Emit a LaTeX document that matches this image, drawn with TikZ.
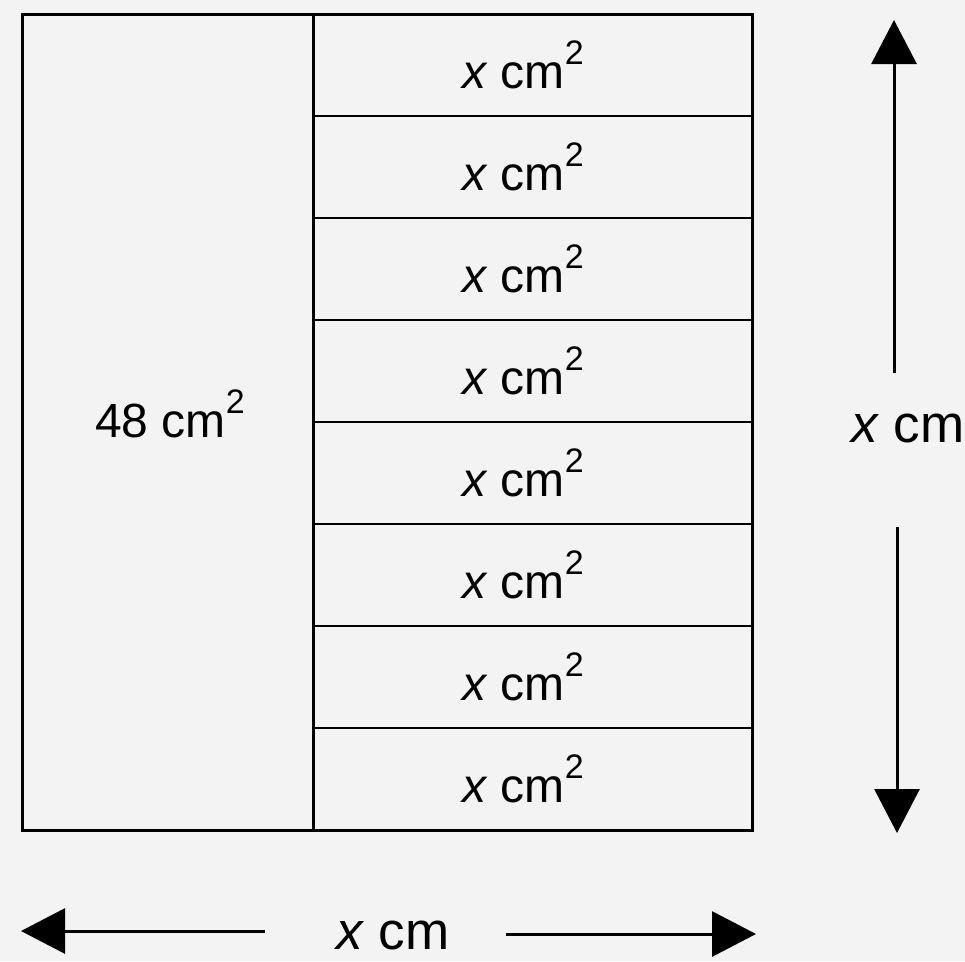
\documentclass[tikz,border=0pt]{standalone}
\usepackage{fontspec}
\setmainfont{Liberation Sans}
\usetikzlibrary{arrows.meta}
\definecolor{bg}{RGB}{243,243,243}
\newcommand\sqtwo{\raisebox{24pt}{\fontsize{34}{34}\selectfont 2}}
\tikzset{
  frame/.style={line width=3pt, draw=black},
  divline/.style={line width=2.2pt, draw=black},
  rowlabel/.style={anchor=base west, inner sep=0pt, font=\fontsize{48}{56}\selectfont},
  dimlabel/.style={anchor=base west, inner sep=0pt, font=\fontsize{53}{60}\selectfont},
  dimarrow/.style={line width=3pt, -{Triangle[length=44pt,width=45pt]}},
}
\begin{document}
\begin{tikzpicture}[x=1pt,y=-1pt]
\fill[bg] (0,0) rectangle (965,961);
\useasboundingbox (0,0) rectangle (965,961);
% outer frame and divider
\draw[frame] (22,14) rectangle (752,830);
\draw[frame] (313,14) -- (313,830);
\foreach \i in {1,...,7}{
  \draw[divline] (313,{14+102*\i}) -- (752,{14+102*\i});
}
% labels
\foreach \i in {0,...,7}{
  \node[rowlabel] (r\i) at (462,{88+102*\i}) {\textit{x}~cm\sqtwo};
}
\node[rowlabel] (big) at (95,437) {48~cm\sqtwo};
\node[dimlabel] (vlab) at (851,442) {\textit{x}~cm};
\node[dimlabel] (hlab) at (336,949) {\textit{x}~cm};
% dimension arrows
\coordinate (vt0) at (894,373);
\coordinate (vt1) at (894,20);
\coordinate (vb0) at (897,527);
\coordinate (vb1) at (897,833);
\coordinate (hl0) at (265,931);
\coordinate (hl1) at (21,931);
\coordinate (hr0) at (506,934);
\coordinate (hr1) at (756,934);
\draw[dimarrow] (vt0) -- (vt1);
\draw[dimarrow] (vb0) -- (vb1);
\draw[dimarrow] (hl0) -- (hl1);
\draw[dimarrow] (hr0) -- (hr1);
\end{tikzpicture}
\end{document}
